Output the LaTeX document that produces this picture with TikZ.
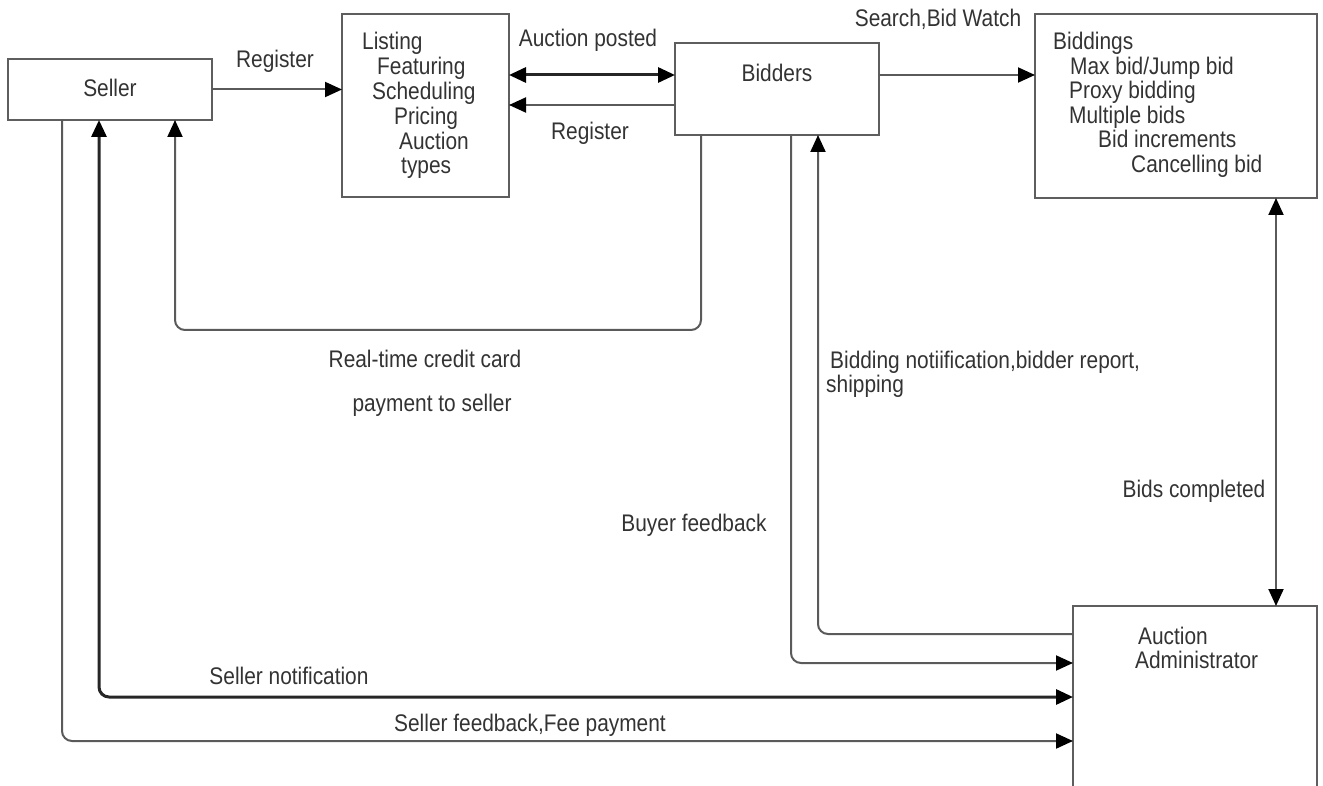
\documentclass[tikz,border=0pt]{standalone}
\usepackage{fontspec}
\setmainfont{Liberation Sans}[FakeStretch=0.87]
\usetikzlibrary{arrows.meta}
\definecolor{boxgray}{HTML}{5E5E5E}
\definecolor{linegray}{HTML}{5A5A5A}
\definecolor{darkline}{HTML}{262626}
\definecolor{txtgray}{HTML}{333333}
\tikzset{
  box/.style={draw=boxgray, line width=2pt, rectangle, inner sep=0pt, outer sep=0pt, fill=white},
  conn/.style={draw=linegray, line width=2pt, rounded corners=10pt},
  heavy/.style={draw=darkline, line width=3pt, rounded corners=10pt},
  tip/.tip={Triangle[length=17pt,width=15pt,fill=black,color=black]},
  lbl/.style={font=\fontsize{24}{28}\selectfont, text=txtgray, inner sep=0pt, anchor=base},
  lblw/.style={lbl, anchor=base west}
}
\begin{document}
\begin{tikzpicture}[x=1pt,y=-1pt]
\useasboundingbox (0,0) rectangle (1323,786);
\clip (0,0) rectangle (1323,786);
\fill[white] (0,0) rectangle (1323,786);

% boxes
\node[box, minimum width=204pt, minimum height=61pt] (seller) at (110,89.5) {};
\node[box, minimum width=167pt, minimum height=183pt] (listing) at (425.5,105.5) {};
\node[box, minimum width=204pt, minimum height=92pt] (bidders) at (777,89) {};
\node[box, minimum width=282pt, minimum height=184pt] (biddings) at (1176,106) {};
\node[box, minimum width=244pt, minimum height=204pt] (admin) at (1195,708) {};

% box texts
\node[lbl] (tseller) at (110,97) {Seller};
\node[lbl] (tbidders) at (777,82) {Bidders};

\node[lblw] (l1) at (362,50) {Listing};
\node[lblw] (l2) at (377,75) {Featuring};
\node[lblw] (l3) at (372,100) {Scheduling};
\node[lblw] (l4) at (394,125) {Pricing};
\node[lblw] (l5) at (399,149.5) {Auction};
\node[lblw] (l6) at (401,174) {types};

\node[lblw] (b1) at (1053,50) {Biddings};
\node[lblw] (b2) at (1070,74.5) {Max bid/Jump bid};
\node[lblw] (b3) at (1069,99) {Proxy bidding};
\node[lblw] (b4) at (1069,123.5) {Multiple bids};
\node[lblw] (b5) at (1098,148) {Bid increments};
\node[lblw] (b6) at (1131,172.5) {Cancelling bid};

\node[lblw] (a1) at (1138,644) {Auction};
\node[lblw] (a2) at (1135,668) {Administrator};

% attachment points
\coordinate (bidA) at ([yshift=-32pt]bidders.north west);
\coordinate (bidR) at ([yshift=-62pt]bidders.north west);
\coordinate (bidS) at ([yshift=-32pt]bidders.north east);
\coordinate (bidsC) at ([xshift=-41pt]biddings.south east);
\coordinate (bidD1) at ([xshift=26pt]bidders.south west);
\coordinate (bidD2) at ([xshift=116pt]bidders.south west);
\coordinate (bidD3) at ([xshift=143pt]bidders.south west);
\coordinate (selU1) at ([xshift=54pt]seller.south west);
\coordinate (selU2) at ([xshift=91pt]seller.south west);
\coordinate (selU3) at ([xshift=167pt]seller.south west);
\coordinate (adm1) at ([yshift=-28pt]admin.north west);
\coordinate (adm2) at ([yshift=-57pt]admin.north west);
\coordinate (adm3) at ([yshift=-91pt]admin.north west);
\coordinate (adm4) at ([yshift=-135pt]admin.north west);
\coordinate (rc) at (175,330);

% connectors
\draw[conn, -tip] (seller.east) -- (listing.west |- seller.east);
\draw[heavy, tip-tip] (bidA) -- (listing.east |- bidA);
\draw[conn, -tip] (bidR) -- (listing.east |- bidR);
\draw[conn, -tip] (bidS) -- (biddings.west |- bidS);
\draw[conn, tip-tip] (bidsC) -- (admin.north -| bidsC);
\draw[conn, -tip] (bidD1) |- (rc) -- (selU3);
\draw[conn, -tip] (bidD2) |- (adm2);
\draw[conn, -tip] (adm1) -| (bidD3);
\draw[heavy, tip-tip] (selU2) |- (adm3);
\draw[conn, -tip] (selU1) |- (adm4);

% labels
\node[lbl] (reg1) at (275,68) {Register};
\node[lbl] (apost) at (588,47) {Auction posted};
\node[lbl] (reg2) at (590,140) {Register};
\node[lbl] (search) at (938,27) {Search,Bid Watch};
\node[lbl] (rt1) at (425,367) {Real-time credit card};
\node[lbl] (rt2) at (432,411) {payment to seller};
\node[lblw] (bn1) at (830,368) {Bidding notiification,bidder report,};
\node[lblw] (bn2) at (826,392) {shipping};
\node[lbl] (bf) at (694,531) {Buyer feedback};
\node[lbl] (bc) at (1194,497) {Bids completed};
\node[lbl] (sn) at (289,684) {Seller notification};
\node[lbl] (sf) at (530,731) {Seller feedback,Fee payment};
\end{tikzpicture}
\end{document}
